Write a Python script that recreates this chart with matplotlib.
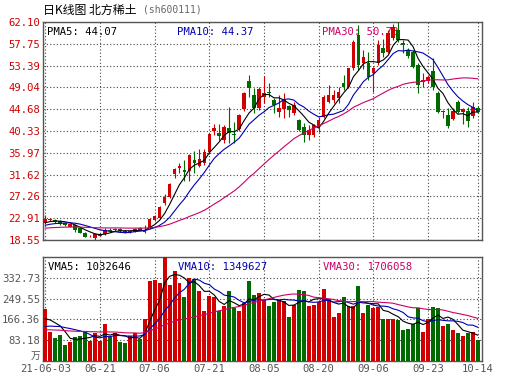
import numpy as np
import pandas as pd
import matplotlib
matplotlib.use("Agg")
import matplotlib.pyplot as plt

# ---------------------------------------------
# daily K-line data, 北方稀土 sh600111, 2021-06-03 .. 2021-10-14
# prices in yuan, volume in 万 (10k shares)
# ---------------------------------------------
opens = [21.89, 22.45, 22.48, 22.40, 21.85, 21.22, 21.55, 21.00, 20.00, 19.30,
         18.90, 19.40, 19.75, 20.60, 20.45, 20.70, 20.40, 20.10, 20.20, 21.00,
         20.20, 20.88, 22.55, 22.90, 25.88, 27.20, 31.70, 32.87, 32.53, 32.33,
         34.53, 33.33, 33.87, 36.07, 40.33, 39.98, 38.50, 40.86, 39.72, 40.66,
         44.66, 50.37, 47.51, 44.86, 47.18, 48.05, 46.52, 44.18, 44.66, 45.32,
         43.86, 42.52, 41.18, 39.52, 39.50, 40.87, 43.18, 46.18, 46.52, 46.85,
         49.85, 49.18, 52.85, 59.50, 53.85, 53.85, 51.85, 53.85, 56.85, 56.20,
         58.85, 60.50, 58.00, 56.50, 56.17, 53.50, 50.05, 50.37, 52.30, 47.98,
         44.05, 43.52, 42.66, 46.18, 44.18, 44.38, 43.32, 44.90]
highs = [23.54, 22.95, 22.70, 22.50, 22.00, 21.80, 21.70, 21.10, 20.10, 19.60,
         20.00, 20.00, 21.00, 20.90, 21.00, 20.90, 20.60, 20.60, 21.00, 21.20,
         21.60, 23.00, 23.60, 25.40, 27.70, 29.90, 32.90, 33.87, 34.50, 35.80,
         36.30, 36.73, 36.73, 40.00, 41.66, 41.66, 41.50, 45.20, 42.20, 43.80,
         48.20, 51.50, 48.85, 49.20, 51.30, 49.85, 46.90, 47.50, 47.85, 45.50,
         46.20, 42.80, 41.84, 41.50, 41.80, 43.20, 47.50, 49.50, 48.50, 49.20,
         51.50, 53.00, 58.50, 61.50, 56.50, 56.20, 53.20, 58.50, 58.80, 60.50,
         61.80, 62.10, 58.60, 57.00, 56.50, 53.90, 51.85, 51.50, 54.85, 48.30,
         44.60, 44.86, 44.90, 46.50, 44.86, 45.20, 46.18, 45.30]
lows = [21.80, 22.30, 22.00, 21.60, 21.40, 21.10, 20.20, 19.90, 19.10, 19.20,
        18.55, 19.30, 19.60, 20.20, 20.30, 20.20, 19.90, 20.00, 20.10, 20.50,
        20.00, 20.70, 22.30, 22.70, 25.50, 26.90, 31.00, 31.87, 30.30, 30.30,
        31.87, 33.20, 33.50, 35.80, 39.50, 38.53, 37.90, 37.90, 37.90, 40.30,
        44.30, 47.20, 43.98, 44.50, 45.86, 47.18, 43.90, 43.20, 42.86, 43.20,
        43.50, 40.30, 38.20, 38.50, 39.20, 40.20, 43.00, 45.85, 45.90, 46.00,
        48.50, 48.90, 52.50, 52.50, 52.80, 50.50, 48.20, 53.50, 55.20, 55.90,
        58.50, 58.10, 56.00, 55.00, 52.90, 47.85, 49.20, 50.00, 48.50, 43.90,
        42.86, 40.87, 42.50, 43.90, 41.70, 41.20, 42.90, 44.00]
closes = [22.75, 22.70, 22.20, 21.75, 21.55, 21.69, 20.55, 20.00, 19.20, 19.40,
          19.75, 19.75, 20.55, 20.40, 20.80, 20.30, 20.00, 20.40, 20.80, 20.60,
          20.60, 22.75, 23.35, 25.20, 27.20, 29.70, 32.73, 33.27, 32.20, 35.53,
          33.87, 34.73, 36.07, 39.72, 40.86, 39.38, 41.20, 39.98, 39.45, 43.52,
          47.85, 48.85, 44.86, 48.65, 47.85, 47.85, 45.52, 44.86, 46.52, 44.52,
          45.52, 40.52, 39.52, 40.52, 41.50, 42.53, 47.18, 47.52, 47.52, 48.18,
          49.18, 52.85, 58.18, 53.50, 55.18, 51.18, 52.85, 57.50, 55.85, 59.85,
          61.20, 58.50, 57.50, 55.40, 53.20, 49.50, 50.50, 51.05, 49.05, 44.18,
          44.38, 41.32, 44.38, 44.18, 44.66, 42.38, 45.05, 44.20]
volumes = [208.9, 116.5, 92.4, 104.5, 64.3, 76.3, 95.0, 100.5, 117.8, 81.6,
           111.3, 81.6, 148.7, 95.0, 111.3, 77.6, 73.7, 100.5, 113.8, 87.0,
           168.8, 321.4, 325.5, 312.0, 430.0, 302.7, 358.9, 312.0, 254.5, 330.7,
           329.5, 278.6, 198.2, 258.4, 254.5, 201.0, 218.0, 278.6, 211.6, 198.2,
           231.8, 321.4, 262.5, 272.0, 245.0, 218.0, 234.0, 245.0, 240.0, 174.0,
           225.0, 285.0, 281.0, 218.0, 225.0, 235.8, 289.0, 247.8, 174.0, 191.6,
           255.0, 218.0, 218.0, 300.0, 191.6, 225.0, 211.6, 215.0, 168.8, 168.8,
           168.8, 164.7, 124.6, 128.6, 147.3, 210.0, 117.8, 167.5, 214.0, 212.0,
           139.0, 146.0, 123.0, 110.0, 99.0, 110.0, 115.0, 82.3]

# sessions before 06-03 (off the chart), estimated from where the MA lines start
pre_closes = [20.4, 20.6, 20.5, 20.7, 20.6, 20.8, 20.5, 20.4, 20.6, 20.7,
              20.9, 20.8, 20.6, 20.5, 20.7, 20.6, 20.8, 20.7, 20.5, 20.5,
              20.7, 20.9, 21.0, 21.1, 21.3, 21.5, 21.7, 21.9, 22.15]
pre_volumes = [110, 125, 118, 120, 115, 122, 130, 112, 116, 119,
               121, 117, 114, 120, 118, 123, 116, 119, 120, 103,
               100, 105, 110, 108, 113, 140, 150, 165, 180]

# legend readouts as printed on the chart
pma_text = ["PMA5: 44.07", "PMA10: 44.37", "PMA30: 50.73"]
vma_text = ["VMA5: 1032646", "VMA10: 1349627", "VMA30: 1706058"]

date_labels = ["21-06-03", "06-21", "07-06", "07-21", "08-05",
               "08-20", "09-06", "09-23", "10-14"]
date_idx = [0, 11, 22, 33, 44, 55, 66, 77, 87]

price_ticks = [62.10, 57.75, 53.39, 49.04, 44.68, 40.33, 35.97, 31.62, 27.26, 22.91, 18.55]
vol_ticks = [83.18, 166.36, 249.55, 332.73]
vol_top = 415.91

RED = "#d00000"
GREEN = "#006a00"
BLUE = "#0000b0"
PINK = "#cc0066"
GRID = "#444444"
MONO = "DejaVu Sans Mono"

n = len(closes)
x = np.arange(n)
o = np.array(opens); c = np.array(closes)
up = c >= o
colors = np.where(up, RED, GREEN)

# moving averages
cs = pd.Series(pre_closes + closes)
vs = pd.Series(pre_volumes + volumes)
npre = len(pre_closes)
pma = [cs.rolling(k).mean().values[npre:] for k in (5, 10, 30)]
vma = [vs.rolling(k).mean().values[npre:] for k in (5, 10, 30)]
ma_colors = ["black", BLUE, PINK]

fig = plt.figure(figsize=(5.30, 3.91), dpi=100)
W, H = 530.0, 391.0
left, right = 43, 481.7
ax = fig.add_axes([left / W, 1 - 240 / H, (right - left) / W, 218 / H])
axv = fig.add_axes([left / W, 1 - 361 / H, (right - left) / W, 104 / H])

xlim = (-0.46, 87.8)
legend_x = [0.009, 0.305, 0.637]

# ----- price panel -----
ax.vlines(x, lows, highs, colors=colors, lw=0.8, zorder=3)
body = np.maximum(np.abs(c - o), 0.12)
ax.bar(x, body, bottom=np.minimum(o, c), width=0.72, color=colors, lw=0, zorder=4)
for line, col, txt, lx in zip(pma, ma_colors, pma_text, legend_x):
    ax.plot(x, line, color=col, lw=0.8, zorder=5)
    ax.text(lx, 0.955, txt, transform=ax.transAxes, color=col,
            fontsize=7.6, family=MONO, va="center", zorder=2)

ax.set_xlim(*xlim)
ax.set_ylim(18.55, 62.10)
ax.set_yticks(price_ticks)
ax.set_yticklabels(["%.2f" % t for t in price_ticks], color=RED,
                   fontsize=7.6, family=MONO)
ax.set_xticks(date_idx)
ax.set_xticklabels([])

# ----- volume panel -----
axv.bar(x, volumes, width=0.8, color=colors, lw=0, zorder=3)
for line, col, txt, lx in zip(vma, ma_colors, vma_text, legend_x):
    axv.plot(x, line, color=col, lw=0.8, zorder=5)
    axv.text(lx + 0.002, 0.907, txt, transform=axv.transAxes, color=col,
             fontsize=7.6, family=MONO, va="center", zorder=2)

axv.set_xlim(*xlim)
axv.set_ylim(0, vol_top)
axv.set_yticks(vol_ticks)
axv.set_yticklabels(["%.2f" % t for t in vol_ticks], color="#555555",
                    fontsize=7.6, family=MONO)
axv.set_xticks(date_idx)
axv.set_xticklabels(date_labels, color="#555555", fontsize=7.6, family=MONO)
axv.text(-0.006, 0.0, "万", transform=axv.transAxes, ha="right", va="bottom",
         color="#555555", fontsize=7, family=["Noto Sans CJK SC", "DejaVu Sans"])

for a in (ax, axv):
    a.grid(True, color=GRID, lw=0.8, linestyle=(0, (1, 2)), zorder=1)
    a.set_axisbelow(True)
    a.tick_params(length=0, pad=2)
    for s in a.spines.values():
        s.set_color("#555555")
        s.set_linewidth(1.0)

# title
fig.text(43 / W, 1 - 10 / H, "日K线图 北方稀土", fontsize=8.6, va="center",
         family=["Noto Sans CJK SC", "DejaVu Sans"], color="black")
fig.text(143 / W, 1 - 10 / H, "(sh600111)", fontsize=7, va="center",
         family=MONO, color="#666666")

fig.savefig("out.png", dpi=100, facecolor="white")
